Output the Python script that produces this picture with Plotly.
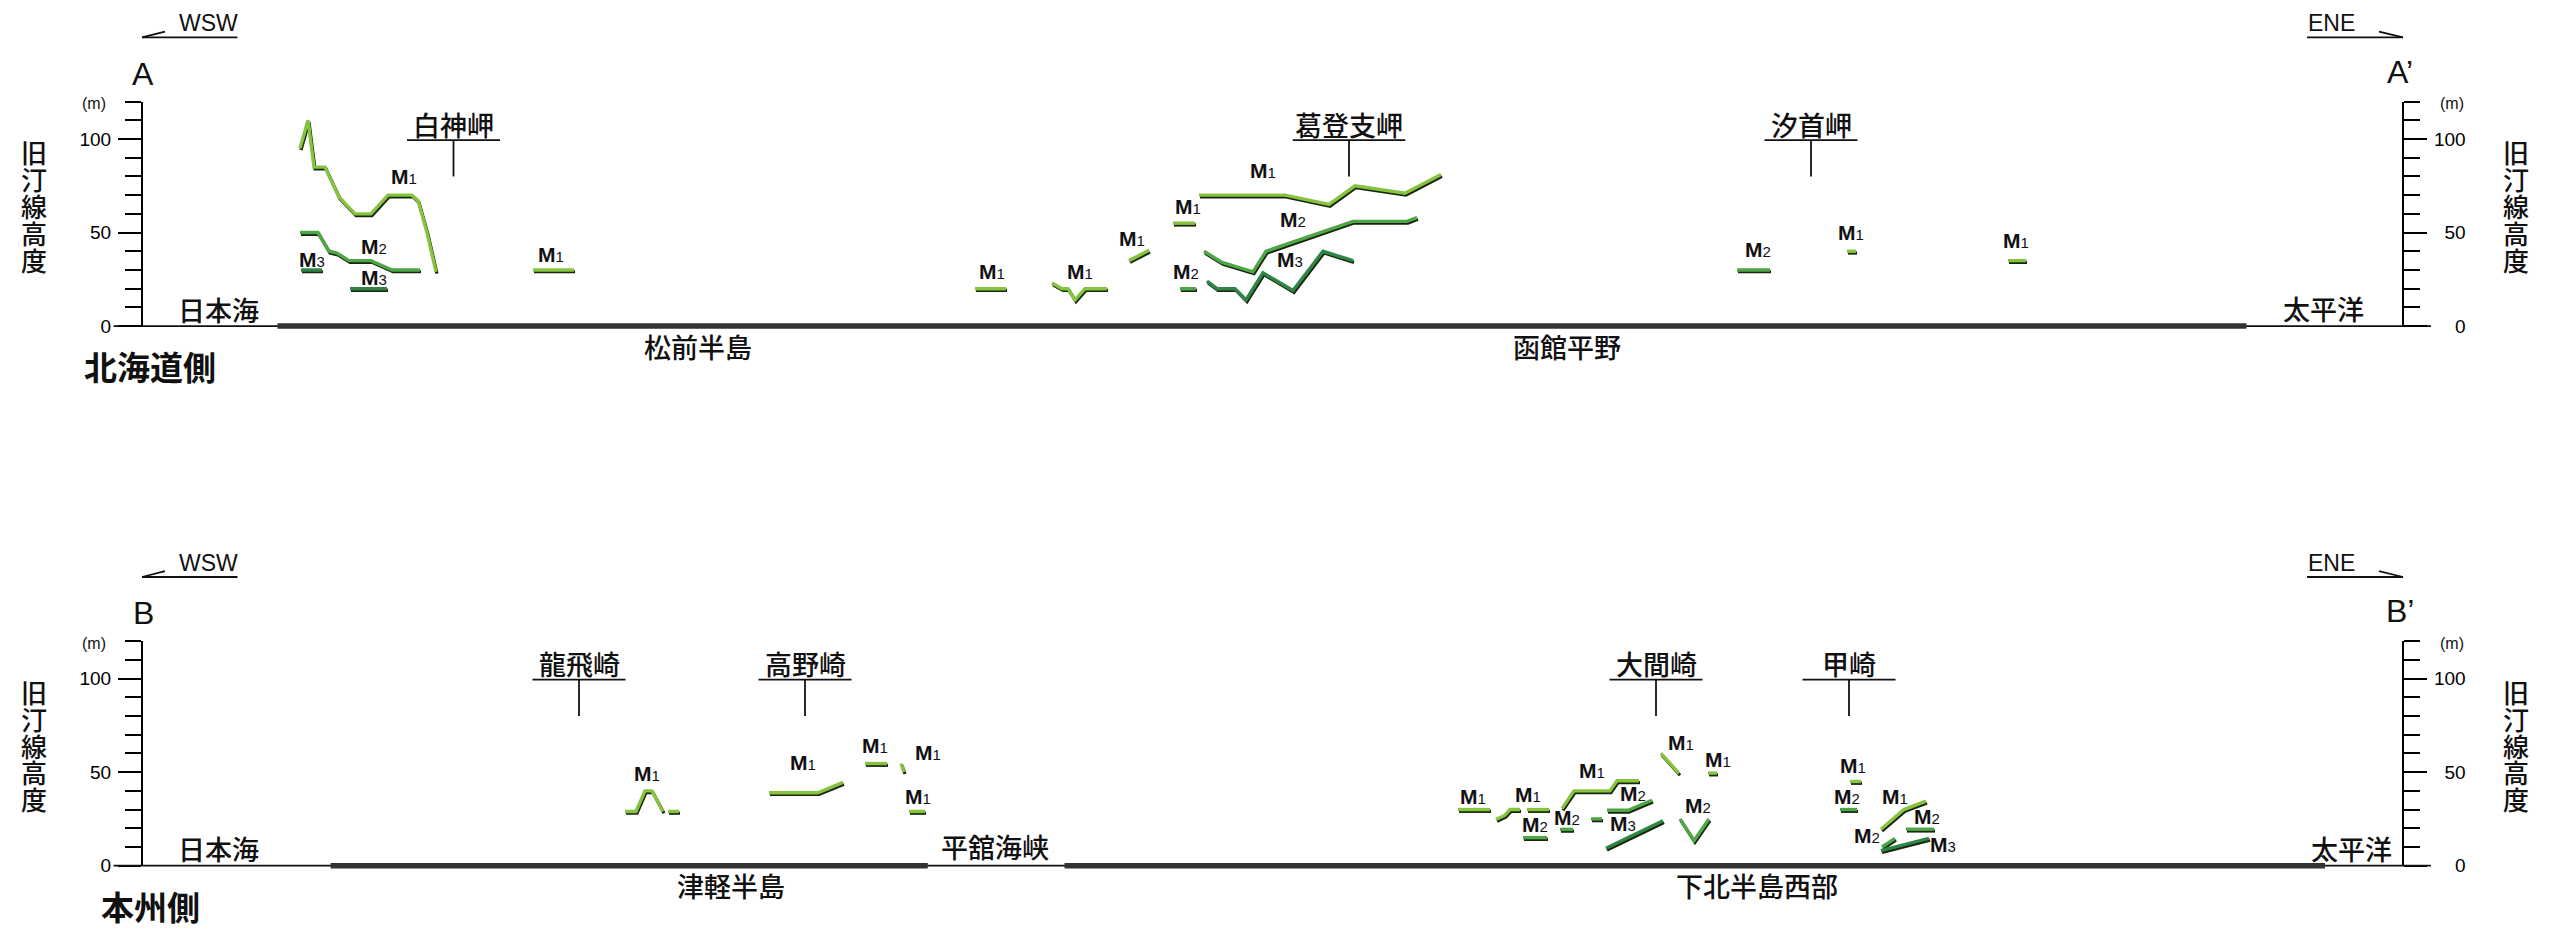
import plotly.graph_objects as go

# ---------------- DATA (distance along profile, height of old shoreline in m) ----------------
# Profile A-A' (Hokkaido side)
A_M1 = [
    ([15.8, 16.6, 17.2, 18.3, 19.7, 21.3, 22.9, 24.6, 27.0, 27.6, 28.5, 29.4],
     [95, 110, 85, 85, 69, 60, 60, 70, 70, 67, 50, 29]),
    ([39.1, 43.2], [30, 30]),
    ([83.3, 86.4], [20, 20]),
    ([91.0, 92.0, 92.6, 93.3, 94.3, 96.5], [23, 20, 20, 14, 20, 20]),
    ([98.7, 100.7], [35, 40.5]),
    ([103.1, 105.3], [55, 55]),
    ([105.7, 114.3, 118.7, 121.3, 126.3, 129.9], [70, 70, 65, 75, 71, 81]),
    ([170.5, 171.4], [40, 40]),
    ([186.6, 188.4], [35, 35]),
]
A_M2 = [
    ([15.8, 17.6, 18.7, 19.5, 20.7, 22.9, 25.0, 27.8], [50, 50, 40, 39, 35, 35, 30, 30]),
    ([103.8, 105.4], [20, 20]),
    ([106.2, 108.0, 111.1, 112.4, 121.1, 126.5, 127.5], [40, 34, 29, 40, 56, 56, 58]),
    ([159.5, 162.8], [30, 30]),
]
A_M3 = [
    ([15.9, 18.0], [30, 30]),
    ([20.8, 24.5], [20, 20]),
    ([106.5, 107.5, 109.3, 110.4, 112.1, 115.1, 118.1, 121.1], [24, 20, 20, 14, 28.5, 19, 40, 35]),
]
A_LABELS = {
    "1": ([26.2, 40.9, 85.0, 93.8, 99.0, 104.6, 112.1, 170.9, 187.4],
          [79, 37.3, 28, 28.2, 45.8, 62.5, 82, 49, 44.4]),
    "2": ([23.2, 104.4, 115.1, 161.6], [41.4, 28, 56, 39.6]),
    "3": ([17.0, 23.2, 114.8], [34.3, 24.7, 34.3]),
}
A_CAPES = [("白神岬", 31.15, 9.3), ("葛登支岬", 120.7, 11.25), ("汐首岬", 166.9, 9.3)]
A_REGIONS = [("松前半島", 55.6), ("函館平野", 142.5)]
A_LAND = [(13.55, 210.45)]

# Profile B-B' (Honshu side)
B_M1 = [
    ([48.3, 49.4, 50.3, 51.0, 52.1], [29, 29, 40, 40, 29]),
    ([52.6, 53.7], [29, 29]),
    ([62.7, 67.6, 70.1], [39, 39, 44.5]),
    ([72.3, 74.5], [54.6, 54.6]),
    ([75.9, 76.2], [54.6, 50]),
    ([76.7, 78.3], [29, 29]),
    ([131.6, 134.8], [30, 30]),
    ([135.4, 136.3, 136.8, 137.8], [24.7, 27, 30, 30]),
    ([138.5, 140.7], [30, 30]),
    ([142.0, 143.2, 146.8, 147.5, 149.7], [30.5, 40, 40, 45.4, 45.4]),
    ([151.9, 153.7], [60, 49.3]),
    ([156.6, 157.5], [49.5, 49.5]),
    ([170.8, 171.9], [45, 45]),
    ([173.9, 176.2, 178.4], [19.5, 30, 34.5]),
]
B_M2 = [
    ([138.1, 140.5], [15, 15]),
    ([141.8, 143.1], [19.4, 19.4]),
    ([144.9, 146.0], [25, 25]),
    ([146.5, 148.6, 151.0], [29.6, 29.6, 35]),
    ([153.8, 155.2, 156.7], [25, 13.4, 25]),
    ([169.8, 171.5], [30, 30]),
    ([176.4, 179.2], [19.5, 19.5]),
    ([174.0, 175.3], [10, 14.6]),
]
B_M3 = [
    ([146.4, 152.1], [9.3, 24]),
    ([173.9, 178.7], [8, 14.6]),
]
B_LABELS = {
    "1": ([50.5, 66.1, 73.3, 78.6, 77.6, 133.1, 138.6, 145.0, 153.9, 157.6, 171.1, 175.3],
          [48, 54.2, 63, 59.2, 35.8, 35.8, 37, 49.8, 64.8, 55.6, 52.5, 35.8]),
    "2": ([139.3, 142.5, 149.1, 155.6, 170.5, 178.5, 172.5],
          [20.8, 24.7, 37.5, 30.8, 35.8, 25.2, 15.2]),
    "3": ([148.1, 180.1], [21.1, 9.9]),
}
B_CAPES = [("龍飛崎", 43.7, 9.3), ("高野崎", 66.3, 9.3), ("大間崎", 151.4, 9.3), ("甲崎", 170.7, 9.3)]
B_REGIONS = [("津軽半島", 58.9), ("下北半島西部", 161.5)]
B_LAND = [(18.86, 78.58), (92.25, 218.3)]

TICK_VALS = [0, 50, 100]
TICK_TEXT_L = ["0", "50", "100"]
TICK_TEXT_R = ["\u2007\u20070", "\u200750", "100"]
Y_AXIS_TITLE = "旧汀線高度"

# ---------------- STYLE / LAYOUT ----------------
W, H = 2562, 936
XR = [-14.2, 242.0]
AX_L, AX_R = 0.0, 226.1
SEA = (-2.85, 228.9)
YR_TOP = [-72.9, 174.3]
YR_BOT = [-31.7, 215.5]
DOM_TOP = [0.5, 1.0]
DOM_BOT = [0.0, 0.5]
COL = {"1": "#86c43f", "2": "#4fa646", "3": "#2f8545"}
SHADOW = "#18260f"
SDX, SDY = 0.1, -0.95
CJK = "Noto Sans CJK JP"
LAT = "Liberation Sans"

fig = go.Figure()


def seg_xy(segs, dx=0.0, dy=0.0):
    xs, ys = [], []
    for sx, sy in segs:
        xs += [v + dx for v in sx] + [None]
        ys += [v + dy for v in sy] + [None]
    return xs, ys


def add_panel(xa, ya, levels, labels):
    for lev, segs in levels:
        x, y = seg_xy(segs, SDX, SDY)
        fig.add_trace(go.Scatter(x=x, y=y, mode="lines", xaxis=xa, yaxis=ya,
                                 line=dict(color=SHADOW, width=3.2), hoverinfo="skip",
                                 showlegend=False))
        x, y = seg_xy(segs)
        fig.add_trace(go.Scatter(x=x, y=y, mode="lines", xaxis=xa, yaxis=ya,
                                 line=dict(color=COL[lev], width=3.4), hoverinfo="skip",
                                 showlegend=False))
    for lev, (lx, ly) in labels.items():
        fig.add_trace(go.Scatter(x=lx, y=ly, mode="text", xaxis=xa, yaxis=ya,
                                 text=["<b>M</b><span style='font-size:15px'>%s</span>" % lev] * len(lx),
                                 textfont=dict(family=LAT, size=21, color="#111"),
                                 hoverinfo="skip", showlegend=False))


add_panel("x", "y", [("1", A_M1), ("2", A_M2), ("3", A_M3)], A_LABELS)
add_panel("x2", "y2", [("1", B_M1), ("2", B_M2), ("3", B_M3)], B_LABELS)

shapes, annots = [], []


def line(xr, yr, x0, y0, x1, y1, w=1.8, c="#111"):
    shapes.append(dict(type="line", xref=xr, yref=yr, x0=x0, y0=y0, x1=x1, y1=y1,
                       line=dict(color=c, width=w), layer="below"))


def text(xr, yr, x, y, t, size, fam=CJK, xa="center", weight="normal"):
    annots.append(dict(xref=xr, yref=yr, x=x, y=y, text=t, showarrow=False,
                       font=dict(family=fam, size=size, color="#111", weight=weight),
                       xanchor=xa, yanchor="middle"))


def decorate(xr, yr, capes, regions, land, left, right, side_name, pacific_x):
    # sea level and land strips
    line(xr, yr, SEA[0], 0, SEA[1], 0, w=1.8)
    for a, b in land:
        line(xr, yr, a, 0, b, 0, w=5.5, c="#333")
    # cape markers
    for name, cx, wd in capes:
        text(xr, yr, cx, 108, name, 27, weight=500)
        line(xr, yr, cx - wd / 2, 99.4, cx + wd / 2, 99.4)
        line(xr, yr, cx, 99.4, cx, 80)
    for name, cx in regions:
        text(xr, yr, cx, -10.8, name, 27, weight=500)
    text(xr, yr, 7.6, 9, "日本海", 27, weight=500)
    text(xr, yr, pacific_x, 9.3, "太平洋", 27, weight=500)
    # direction arrows
    text(xr, yr, 6.6, 162, "WSW", 23, fam=LAT)
    line(xr, yr, AX_L, 154.3, 9.55, 154.3)
    line(xr, yr, AX_L, 154.3, 2.3, 157.4)
    text(xr, yr, 218.9, 162, "ENE", 23, fam=LAT)
    line(xr, yr, 216.5, 154.3, AX_R, 154.3)
    line(xr, yr, 223.7, 157.4, AX_R, 154.3)
    # end letters
    text(xr, yr, 0.1, 135, left, 32, fam=LAT)
    text(xr, yr, 225.8, 136, right, 32, fam=LAT)
    text(xr, yr, -4.8, 119, "(m)", 16, fam=LAT)
    text(xr, yr, 231.0, 119, "(m)", 16, fam=LAT)
    # vertical axis titles
    for i, ch in enumerate(Y_AXIS_TITLE):
        yy = 64.5 + (2 - i) * 14.4
        text(xr, yr, -10.85, yy, ch, 26, weight=500)
        text(xr, yr, 237.4, yy, ch, 26, weight=500)
    text(xr, yr, 0.8, -21.4, side_name, 33, weight="bold")


decorate("x", "y", A_CAPES, A_REGIONS, A_LAND, "A", "A’", "北海道側", 218.1)
decorate("x2", "y2", B_CAPES, B_REGIONS, B_LAND, "B", "B’", "本州側", 220.9)
text("x2", "y2", 85.3, 10.2, "平舘海峡", 27, weight=500)


def sub_dom(dom, yr):
    f = lambda v: dom[0] + (v - yr[0]) / (yr[1] - yr[0]) * (dom[1] - dom[0])
    return [f(0), f(120)]


def xpos(v):
    return (v - XR[0]) / (XR[1] - XR[0])


def tick_axis(dom, side, pos, labels):
    return dict(domain=dom, range=[0, 120], anchor="free", position=pos, side=side,
                showline=True, linecolor="black", linewidth=2.2,
                ticks="outside", ticklen=23, tickwidth=2.2, tickcolor="black",
                tickmode="array", tickvals=TICK_VALS, ticktext=labels,
                minor=dict(ticks="outside", ticklen=16, tickwidth=2.2, tickcolor="black",
                           tickmode="linear", tick0=0, dtick=10, showgrid=False),
                showgrid=False, zeroline=False, fixedrange=True,
                tickfont=dict(family=LAT, size=19, color="black"),
                ticklabelstandoff=3)


d_top = sub_dom(DOM_TOP, YR_TOP)
d_bot = sub_dom(DOM_BOT, YR_BOT)
for ya in ["y3", "y4", "y5", "y6"]:
    fig.add_trace(go.Scatter(x=[None], y=[None], xaxis="x", yaxis=ya, showlegend=False,
                             hoverinfo="skip"))

hidden = dict(visible=False, showgrid=False, zeroline=False, fixedrange=True)
fig.update_layout(
    width=W, height=H, margin=dict(l=0, r=0, t=0, b=0),
    paper_bgcolor="white", plot_bgcolor="rgba(0,0,0,0)", showlegend=False,
    font=dict(family=CJK, color="#111"),
    xaxis=dict(domain=[0, 1], range=XR, anchor="y", **hidden),
    xaxis2=dict(domain=[0, 1], range=XR, anchor="y2", **hidden),
    yaxis=dict(domain=DOM_TOP, range=YR_TOP, anchor="x", **hidden),
    yaxis2=dict(domain=DOM_BOT, range=YR_BOT, anchor="x2", **hidden),
    yaxis3=tick_axis(d_top, "left", xpos(AX_L), TICK_TEXT_L),
    yaxis4=tick_axis(d_top, "right", xpos(AX_R), TICK_TEXT_R),
    yaxis5=tick_axis(d_bot, "left", xpos(AX_L), TICK_TEXT_L),
    yaxis6=tick_axis(d_bot, "right", xpos(AX_R), TICK_TEXT_R),
    shapes=shapes, annotations=annots,
)

fig.write_html("out.html")
